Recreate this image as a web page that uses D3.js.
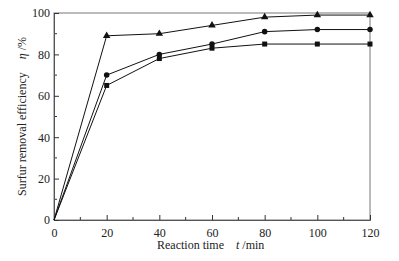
<!DOCTYPE html>
<html>
<head>
<meta charset="utf-8">
<script src="https://cdn.jsdelivr.net/npm/d3@7"></script>
<style>
  body { margin: 0; background: #fff; overflow: hidden; }
  svg { display: block; font-family: 'Liberation Serif', serif; }
</style>
</head>
<body>
<div id="chart"></div>
<script>
/* Data */
const times = [0, 20, 40, 60, 80, 100, 120];
const triangleSeries = [0, 89, 90, 94, 98, 99, 99];
const circleSeries = [0, 70, 80, 85, 91, 92, 92];
const squareSeries = [0, 65, 78, 83, 85, 85, 85];
const xTicks = [0, 20, 40, 60, 80, 100, 120];
const yTicks = [0, 20, 40, 60, 80, 100];

const width = 399;
const height = 261;
const margin = { top: 13, right: 29, bottom: 41, left: 54 };
const innerWidth = width - margin.left - margin.right;
const innerHeight = height - margin.top - margin.bottom;

const svg = d3.select('#chart')
  .append('svg')
  .attr('width', width)
  .attr('height', height);

const g = svg.append('g').attr('transform', `translate(${margin.left},${margin.top})`);

const x = d3.scaleLinear().domain([0, 120]).range([0, innerWidth]);
const y = d3.scaleLinear().domain([0, 100]).range([innerHeight, 0]);

// frame
g.append('rect')
  .attr('width', innerWidth)
  .attr('height', innerHeight)
  .attr('fill', 'none')
  .attr('stroke', '#777')
  .attr('stroke-width', 1);

// minor ticks (inward, no labels)
g.selectAll('.x-minor')
  .data(d3.range(10, 120, 20))
  .enter()
  .append('line')
  .attr('x1', d => x(d)).attr('x2', d => x(d))
  .attr('y1', innerHeight).attr('y2', innerHeight - 3)
  .attr('stroke', '#333');

g.selectAll('.y-minor')
  .data(d3.range(10, 100, 20))
  .enter()
  .append('line')
  .attr('y1', d => y(d)).attr('y2', d => y(d))
  .attr('x1', 0).attr('x2', 3)
  .attr('stroke', '#333');

// major axes with inward ticks
const xAxis = g.append('g')
  .attr('transform', `translate(0,${innerHeight})`)
  .call(d3.axisBottom(x).tickValues(xTicks).tickSize(-5).tickPadding(8));

const yAxis = g.append('g')
  .call(d3.axisLeft(y).tickValues(yTicks).tickSize(-5).tickPadding(4));

[xAxis, yAxis].forEach(ax => {
  ax.select('.domain').attr('stroke', '#555');
  ax.selectAll('.tick line').attr('stroke', '#333');
  ax.selectAll('text')
    .style('font-family', 'Liberation Serif, serif')
    .style('font-size', '12px')
    .attr('fill', '#222');
});

// lines
const line = d3.line()
  .x((d, i) => x(times[i]))
  .y(d => y(d));

const series = [
  { values: triangleSeries, symbol: d3.symbolTriangle, size: 24 },
  { values: circleSeries, symbol: d3.symbolCircle, size: 24 },
  { values: squareSeries, symbol: d3.symbolSquare, size: 25 }
];

series.forEach(s => {
  g.append('path')
    .attr('d', line(s.values))
    .attr('fill', 'none')
    .attr('stroke', '#111')
    .attr('stroke-width', 1);

  g.selectAll(null)
    .data(s.values.slice(1))
    .enter()
    .append('path')
    .attr('transform', (d, i) => `translate(${x(times[i + 1])},${y(d)})`)
    .attr('d', d3.symbol().type(s.symbol).size(s.size))
    .attr('fill', '#111');
});

// axis titles
const yLabel = svg.append('text')
  .attr('transform', 'translate(26,196) rotate(-90)')
  .attr('text-anchor', 'start')
  .style('font-size', '12px')
  .attr('fill', '#222');
yLabel.append('tspan').text('Surfur removal efficiency');
yLabel.append('tspan').attr('dx', 13).style('font-style', 'italic').text('η');
yLabel.append('tspan').text(' /%');

const xLabel = svg.append('text')
  .attr('x', 157)
  .attr('y', 249)
  .attr('text-anchor', 'start')
  .style('font-size', '12px')
  .attr('fill', '#222');
xLabel.append('tspan').text('Reaction time');
xLabel.append('tspan').attr('dx', 12).style('font-style', 'italic').text('t');
xLabel.append('tspan').text(' /min');
</script>
</body>
</html>
